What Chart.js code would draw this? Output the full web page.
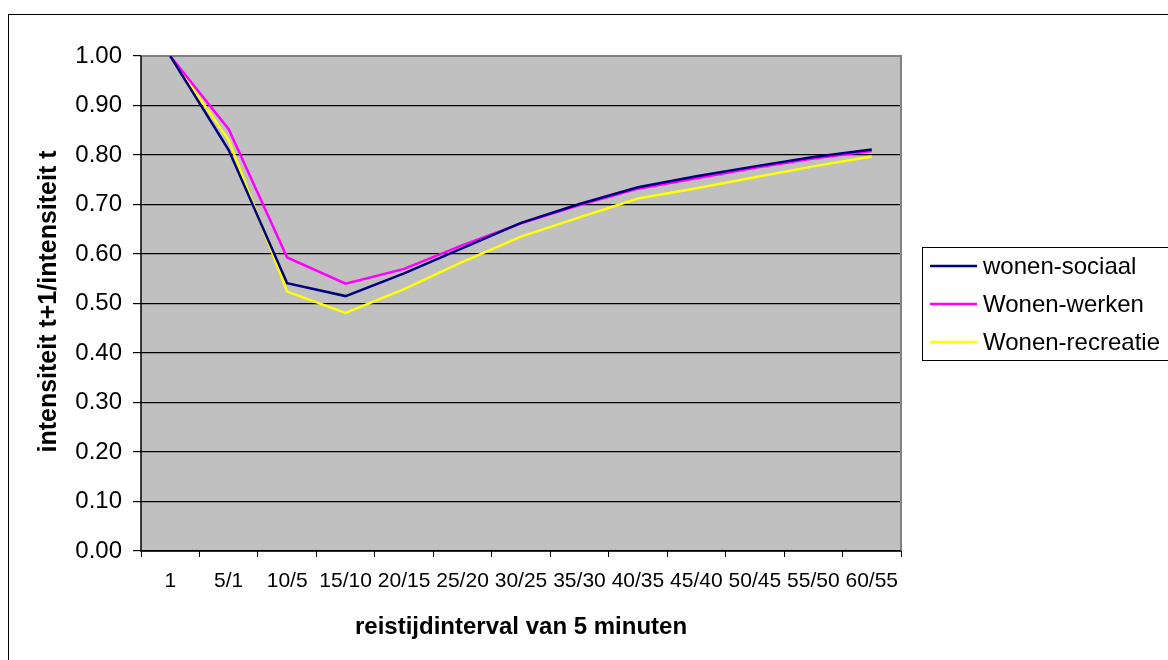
<!DOCTYPE html>
<html>
<head>
<meta charset="utf-8">
<script src="https://cdn.jsdelivr.net/npm/chart.js@4/dist/chart.umd.min.js"></script>
<style>
html,body{margin:0;padding:0;background:#fff;overflow:hidden;}
#wrap{position:relative;width:1168px;height:660px;}
</style>
</head>
<body>
<div id="wrap"><canvas id="c" width="1168" height="660"></canvas></div>
<script>
const categories = ['1','5/1','10/5','15/10','20/15','25/20','30/25','35/30','40/35','45/40','50/45','55/50','60/55'];
const wonenSociaal = [1.00,0.810,0.541,0.515,0.561,0.612,0.663,0.701,0.735,0.757,0.777,0.796,0.811];
const wonenWerken = [1.00,0.852,0.593,0.540,0.570,0.618,0.662,0.699,0.732,0.753,0.774,0.793,0.808];
const wonenRecreatie = [1.00,0.830,0.524,0.481,0.529,0.584,0.635,0.674,0.712,0.733,0.755,0.777,0.797];
const seriesNames = ['wonen-sociaal','Wonen-werken','Wonen-recreatie'];
const seriesColors = ['#000080','#FF00FF','#FFFF00'];
const yTitle = 'intensiteit t+1/intensiteit t';
const xTitle = 'reistijdinterval van 5 minuten';

const FONT = '"Liberation Sans", Arial, sans-serif';

const decor = {
  id: 'decor',
  beforeDraw(chart) {
    const ctx = chart.ctx, a = chart.chartArea;
    ctx.save();
    ctx.fillStyle = '#fff';
    ctx.fillRect(0, 0, chart.width, chart.height);
    ctx.fillStyle = '#C0C0C0';
    ctx.fillRect(a.left, a.top, a.right - a.left, a.bottom - a.top);
    // outer chart border (continues beyond the picture)
    ctx.strokeStyle = '#000';
    ctx.lineWidth = 1;
    ctx.strokeRect(8.5, 14.5, 1300, 800);
    ctx.restore();
  },
  beforeDatasetsDraw(chart) {
    const ctx = chart.ctx, a = chart.chartArea;
    ctx.save();
    ctx.strokeStyle = '#808080';
    ctx.lineWidth = 2;
    ctx.beginPath();
    ctx.moveTo(a.left, a.top);
    ctx.lineTo(a.right, a.top);
    ctx.lineTo(a.right, a.bottom);
    ctx.stroke();
    ctx.strokeStyle = '#000';
    ctx.lineWidth = 1.5;
    ctx.beginPath();
    ctx.moveTo(a.left, a.top);
    ctx.lineTo(a.left, a.bottom);
    ctx.lineTo(a.right, a.bottom);
    ctx.stroke();
    ctx.restore();
  },
  afterDraw(chart) {
    const ctx = chart.ctx, a = chart.chartArea;
    ctx.save();
    ctx.fillStyle = '#000';
    ctx.font = 'bold 24px ' + FONT;
    ctx.textAlign = 'center';
    ctx.textBaseline = 'middle';
    ctx.fillText(xTitle, (a.left + a.right) / 2, 627);
    ctx.font = 'bold 25px ' + FONT;
    ctx.translate(49, (a.top + a.bottom) / 2 - 2);
    ctx.rotate(-Math.PI / 2);
    ctx.fillText(yTitle, 0, 0);
    ctx.restore();

    // legend (box continues past the right edge like the reference)
    ctx.save();
    const bx = 922.5, by = 247.5, bw = 300, bh = 113;
    ctx.fillStyle = '#fff';
    ctx.fillRect(bx, by, bw, bh);
    ctx.strokeStyle = '#000';
    ctx.lineWidth = 1;
    ctx.strokeRect(bx, by, bw, bh);
    ctx.font = '24px ' + FONT;
    ctx.textAlign = 'left';
    ctx.textBaseline = 'middle';
    chart.data.datasets.forEach((ds, i) => {
      const y = 266 + i * 38;
      ctx.strokeStyle = ds.borderColor;
      ctx.lineWidth = 2.5;
      ctx.beginPath();
      ctx.moveTo(930, y);
      ctx.lineTo(977, y);
      ctx.stroke();
      ctx.fillStyle = '#000';
      ctx.fillText(ds.label, 983, y + 1);
    });
    ctx.restore();
  }
};

const datasets = [wonenSociaal, wonenWerken, wonenRecreatie].map((d, i) => ({
  label: seriesNames[i],
  data: d,
  borderColor: seriesColors[i],
  backgroundColor: seriesColors[i],
  borderWidth: 2.5,
  pointRadius: 0,
  tension: 0,
  fill: false
}));

new Chart(document.getElementById('c'), {
  type: 'line',
  data: { labels: categories, datasets: datasets },
  options: {
    responsive: false,
    animation: false,
    devicePixelRatio: 1,
    layout: { padding: { left: 0, right: 267, top: 56, bottom: 0 } },
    plugins: { legend: { display: false }, tooltip: { enabled: false } },
    scales: {
      x: {
        type: 'category',
        offset: true,
        grid: { offset: true, drawOnChartArea: false, drawTicks: true, tickLength: 6, color: '#000', lineWidth: 1 },
        border: { display: false },
        ticks: { color: '#000', font: { family: FONT, size: 21 }, padding: 12, maxRotation: 0, autoSkip: false },
        afterFit(s) { s.height = 109; }
      },
      y: {
        min: 0, max: 1,
        grid: { color: '#000', lineWidth: 1.2, tickLength: 8, drawTicks: true },
        border: { display: false },
        ticks: { stepSize: 0.1, color: '#000', font: { family: FONT, size: 24 }, padding: 11,
          callback: v => Number(v).toFixed(2) },
        afterFit(s) { s.width = 141; }
      }
    }
  },
  plugins: [decor]
});
</script>
</body>
</html>
